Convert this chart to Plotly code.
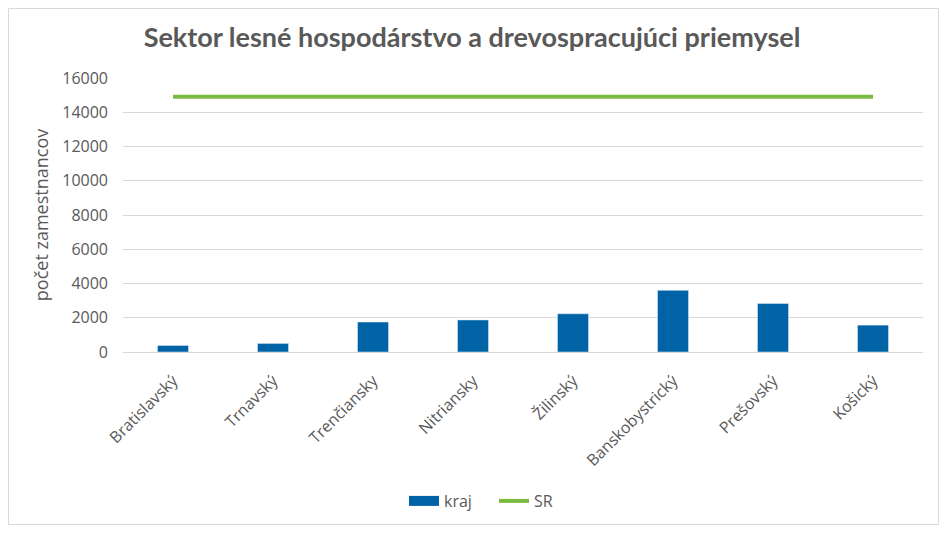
import plotly.graph_objects as go

kraje = ['Bratislavský', 'Trnavský', 'Trenčiansky', 'Nitriansky', 'Žilinský',
         'Banskobystrický', 'Prešovský', 'Košický']
kraj = [380, 500, 1750, 1870, 2230, 3600, 2830, 1570]
sr = [14900, 14900, 14900, 14900, 14900, 14900, 14900, 14900]

grey = '#595959'
blue = '#0063a6'
green = '#7cbb42'
fnt = 'Open Sans'

fig = go.Figure()
fig.add_trace(go.Bar(x=kraje, y=kraj, name='kraj', marker_color=blue, width=0.31,
                     showlegend=False))
# legend entry for the bars drawn as a wide block like in Excel
fig.add_trace(go.Scatter(x=[None], y=[None], name='kraj', mode='lines',
                         line=dict(color=blue, width=10)))
fig.add_trace(go.Scatter(x=kraje, y=sr, name='SR', mode='lines',
                         line=dict(color=green, width=4)))

# page shows the figure 8px in from the top left corner
fig.update_layout(
    width=931, height=517,
    margin=dict(l=115, r=16, t=70, b=173, autoexpand=False),
    paper_bgcolor='white', plot_bgcolor='white',
    font=dict(family=fnt, size=16, color=grey),
    title=dict(text='<b>Sektor lesné hospodárstvo a drevospracujúci priemysel</b>',
               x=(472 - 8 - 115) / 800, xref='paper', xanchor='center',
               y=1 - 30 / 517, yanchor='middle',
               font=dict(family='Lato', size=27, color=grey)),
    yaxis=dict(range=[0, 16000], dtick=2000, tickformat='d', showgrid=True,
               gridcolor='#d9d9d9', gridwidth=1, zeroline=False, showline=False, ticks='',
               ticklabelstandoff=14, automargin=False,
               title=dict(text='počet zamestnancov', font=dict(size=18, color=grey), standoff=8)),
    xaxis=dict(tickangle=-45, showline=True, linecolor='#d9d9d9', linewidth=1, ticks='',
               ticklabelstandoff=12, automargin=False),
    legend=dict(orientation='h', x=(404 - 8 - 115) / 800, xanchor='left', entrywidth=45,
                y=-149 / 274, yanchor='middle', font=dict(size=16, color=grey)),
    showlegend=True,
)
fig.add_shape(type='rect', xref='paper', yref='paper',
              x0=-114.5 / 800, x1=1 + 15.5 / 800, y0=-172.5 / 274, y1=1 + 69.5 / 274,
              line=dict(color='#d9d9d9', width=1), layer='below')

fig.write_html('out.html')
